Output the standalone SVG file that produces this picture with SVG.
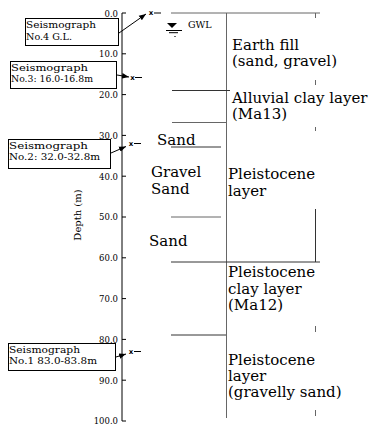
<svg xmlns="http://www.w3.org/2000/svg" width="380" height="428" viewBox="0 0 380 428">
<style>
.ax{stroke:#000;stroke-width:1;fill:none}
.ln{stroke:#333;stroke-width:1;fill:none}
.lg{stroke:#666;stroke-width:1;fill:none}
.dl{font-family:"DejaVu Serif",serif;font-size:8.5px;fill:#000;text-anchor:end}
.bt{font-family:"DejaVu Serif",serif;font-size:10px;fill:#000}
.lt{font-family:"DejaVu Serif",serif;font-size:15px;fill:#000}
.box{fill:#fff;stroke:#000;stroke-width:1}
</style>
<defs>
<marker id="ah" viewBox="0 0 10 10" refX="10" refY="5" markerWidth="7" markerHeight="7" orient="auto" markerUnits="userSpaceOnUse">
<path d="M0,1 L10,5 L0,9 Z" fill="#000"/>
</marker>
</defs>
<g id="axis">
<line class="ax" x1="122" y1="13" x2="122" y2="421"/>
<g class="ax">
<line x1="122" y1="13" x2="126" y2="13"/>
<line x1="122" y1="53.8" x2="126" y2="53.8"/>
<line x1="122" y1="94.6" x2="126" y2="94.6"/>
<line x1="122" y1="135.4" x2="126" y2="135.4"/>
<line x1="122" y1="176.2" x2="126" y2="176.2"/>
<line x1="122" y1="217" x2="126" y2="217"/>
<line x1="122" y1="257.8" x2="126" y2="257.8"/>
<line x1="122" y1="298.6" x2="126" y2="298.6"/>
<line x1="122" y1="339.4" x2="126" y2="339.4"/>
<line x1="122" y1="380.2" x2="126" y2="380.2"/>
<line x1="122" y1="421" x2="126" y2="421"/>
</g>
<text class="dl" x="118" y="16.5">0.0</text>
<text class="dl" x="118" y="57">10.0</text>
<text class="dl" x="118" y="98">20.0</text>
<text class="dl" x="118" y="138.5">30.0</text>
<text class="dl" x="118" y="179.5">40.0</text>
<text class="dl" x="118" y="220">50.0</text>
<text class="dl" x="118" y="261">60.0</text>
<text class="dl" x="118" y="302">70.0</text>
<text class="dl" x="118" y="342.5">80.0</text>
<text class="dl" x="118" y="383.5">90.0</text>
<text class="dl" x="118" y="424">100.0</text>
<text class="bt" x="0" y="0" font-size="10.5" text-anchor="middle" transform="translate(81,215) rotate(-90)">Depth (m)</text>
</g>
<g id="strata">
<line class="lg" x1="171" y1="13" x2="320" y2="13"/>
<line class="lg" x1="226.5" y1="13" x2="226.5" y2="418"/>
<line class="ln" x1="172" y1="90.5" x2="230" y2="90.5"/>
<line class="lg" x1="172" y1="122.5" x2="227" y2="122.5"/>
<line class="ln" x1="171" y1="147" x2="221" y2="147"/>
<line class="lg" x1="171" y1="217" x2="221" y2="217"/>
<line class="ln" x1="171" y1="262" x2="320" y2="262"/>
<line class="ln" x1="171" y1="335" x2="226" y2="335"/>
<line class="ln" x1="315.5" y1="209" x2="315.5" y2="262"/>
<g class="lg">
<line x1="315.5" y1="13" x2="315.5" y2="18"/>
<line x1="315.5" y1="80" x2="315.5" y2="85"/>
<line x1="315.5" y1="127" x2="315.5" y2="131"/>
<line x1="315.5" y1="326" x2="315.5" y2="332"/>
<line x1="315.5" y1="410" x2="315.5" y2="416"/>
</g>
</g>
<g id="gwl">
<path d="M167,23 L177,23 L172,28 Z" fill="#000"/>
<line class="ax" x1="166" y1="30.5" x2="182" y2="30.5"/>
<line class="ax" x1="169" y1="32.7" x2="178" y2="32.7"/>
<line class="lg" x1="174" y1="36.5" x2="176" y2="36.5"/>
<text x="188" y="28" font-family="DejaVu Serif,serif" font-size="9.5" fill="#000">GWL</text>
</g>
<g id="labels">
<text class="lt" x="232" y="50">Earth fill</text>
<text class="lt" x="232" y="65.5">(sand, gravel)</text>
<text class="lt" x="232" y="103">Alluvial clay layer</text>
<text class="lt" x="232" y="118.5">(Ma13)</text>
<text class="lt" x="157" y="145" font-size="16">Sand</text>
<text class="lt" x="151" y="177" font-size="16">Gravel</text>
<text class="lt" x="151" y="194" font-size="16">Sand</text>
<text class="lt" x="149" y="246" font-size="16">Sand</text>
<text class="lt" x="228" y="179">Pleistocene</text>
<text class="lt" x="228" y="196">layer</text>
<text class="lt" x="228" y="277">Pleistocene</text>
<text class="lt" x="228" y="293.5">clay layer</text>
<text class="lt" x="228" y="310">(Ma12)</text>
<text class="lt" x="228" y="365">Pleistocene</text>
<text class="lt" x="228" y="381">layer</text>
<text class="lt" x="228" y="397">(gravelly sand)</text>
</g>
<g id="seis4">
<rect class="box" x="25.5" y="18.5" width="93" height="27"/>
<text class="bt" x="26" y="28" textLength="70" lengthAdjust="spacingAndGlyphs">Seismograph</text>
<text class="bt" x="26" y="40" textLength="46" lengthAdjust="spacingAndGlyphs">No.4 G.L.</text>
</g>
<g id="seis3">
<rect class="box" x="10.5" y="61.5" width="106" height="27"/>
<text class="bt" x="11" y="71" textLength="77" lengthAdjust="spacingAndGlyphs">Seismograph</text>
<text class="bt" x="11" y="82" textLength="82" lengthAdjust="spacingAndGlyphs">No.3: 16.0-16.8m</text>
</g>
<g id="seis2">
<rect class="box" x="8.5" y="139.5" width="102" height="29"/>
<text class="bt" x="9" y="149" textLength="79" lengthAdjust="spacingAndGlyphs">Seismograph</text>
<text class="bt" x="9" y="159.5" textLength="91" lengthAdjust="spacingAndGlyphs">No.2: 32.0-32.8m</text>
</g>
<g id="seis1">
<rect class="box" x="8.5" y="343.5" width="107" height="27"/>
<text class="bt" x="9" y="353" textLength="71" lengthAdjust="spacingAndGlyphs">Seismograph</text>
<text class="bt" x="9" y="364" textLength="88" lengthAdjust="spacingAndGlyphs">No.1 83.0-83.8m</text>
</g>
<g id="connectors">
<line class="ax" x1="119" y1="33" x2="146" y2="14" marker-end="url(#ah)"/>
<line class="ax" x1="117" y1="75" x2="129" y2="77" marker-end="url(#ah)"/>
<line class="ax" x1="111" y1="153" x2="126" y2="146.5" marker-end="url(#ah)"/>
<line class="ax" x1="116" y1="357" x2="126" y2="354" marker-end="url(#ah)"/>
<g font-family="DejaVu Sans,sans-serif" font-size="7" font-weight="bold" fill="#000" text-anchor="middle">
<text x="151" y="15">x</text>
<text x="132.5" y="79.5">x</text>
<text x="131" y="146">x</text>
<text x="131" y="354">x</text>
</g>
<g class="ax">
<line x1="154" y1="13" x2="161" y2="13"/>
<line x1="135" y1="77.5" x2="142" y2="77.5"/>
<line x1="134" y1="143.5" x2="141" y2="143.5"/>
<line x1="134" y1="351.5" x2="141" y2="351.5"/>
</g>
</g>
</svg>
